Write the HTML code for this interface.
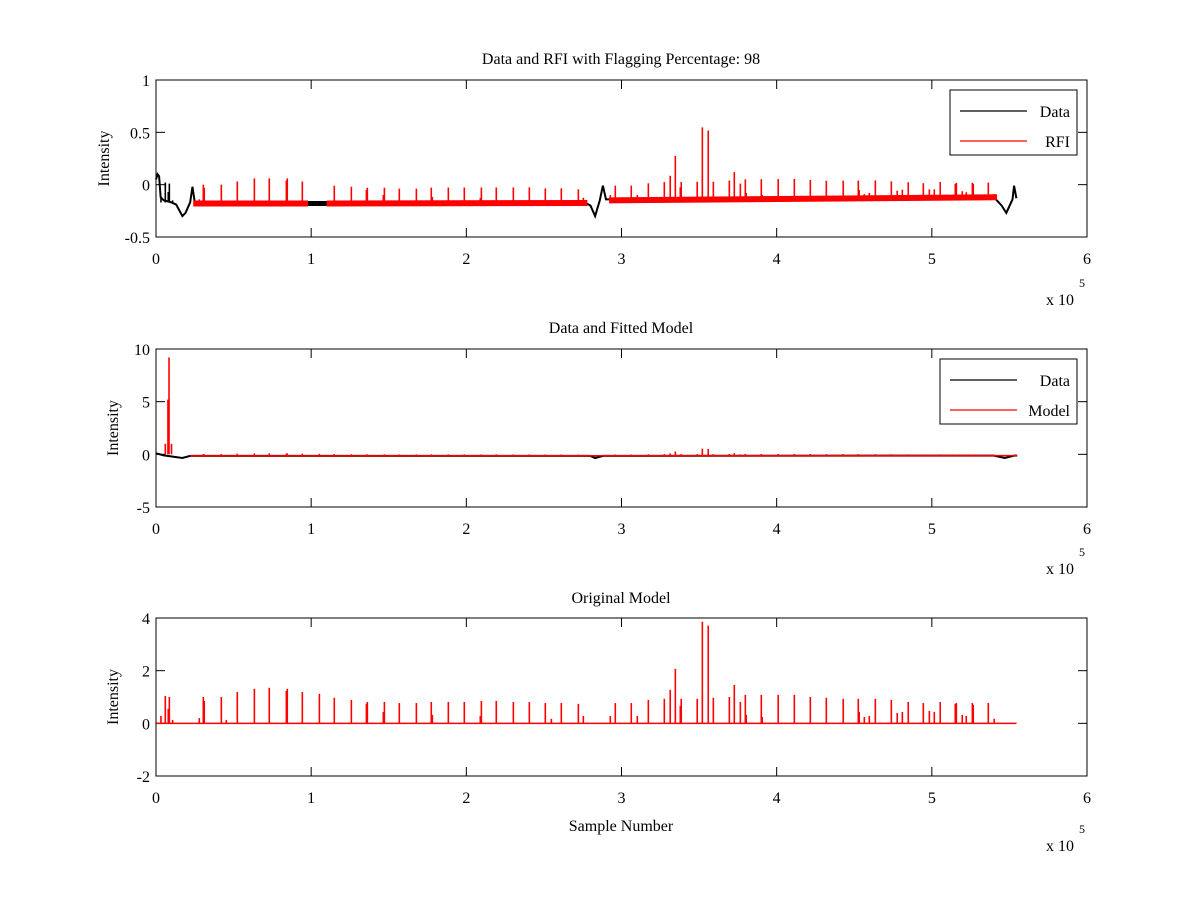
<!DOCTYPE html>
<html><head><meta charset="utf-8"><style>
html,body{margin:0;padding:0;background:#fff;}
svg{display:block;font-family:"Liberation Serif",serif;}
</style></head><body>
<svg id="chart" width="1200" height="900" viewBox="0 0 1200 900" xmlns="http://www.w3.org/2000/svg">
<rect x="0" y="0" width="1200" height="900" fill="#fff"/>
</svg>
<script>
// ---- data (x in units of 1e5 samples) ----
const spikePos = [0.032,0.060,0.079,0.086,0.107,0.279,0.305,0.311,0.421,0.453,0.524,0.634,0.730,0.840,0.846,0.943,1.053,1.149,1.259,1.356,1.362,1.465,1.472,1.568,1.678,1.774,1.781,1.884,1.987,2.090,2.097,2.193,2.303,2.406,2.509,2.548,2.612,2.722,2.754,2.928,2.960,
3.063,3.102,3.173,3.276,3.314,3.347,3.379,3.385,3.488,3.521,3.559,3.592,3.695,3.727,3.766,3.798,3.804,3.901,3.907,4.010,4.114,4.217,4.320,4.429,4.526,4.532,4.565,4.597,4.636,4.739,4.777,4.810,4.848,4.945,4.984,5.016,5.054,5.151,5.158,5.196,5.222,5.261,5.267,5.364,5.402];
const modelVals = [0.28,1.04,0.55,1.0,0.13,0.2,1.0,0.85,1.0,0.13,1.19,1.31,1.35,1.23,1.31,1.19,1.12,0.97,0.89,0.74,0.81,0.43,0.81,0.77,0.77,0.81,0.32,0.81,0.81,0.28,0.85,0.85,0.81,0.81,0.77,0.17,0.77,0.74,0.28,0.28,0.77,
0.77,0.28,0.89,0.93,1.27,2.07,0.66,0.93,0.93,3.86,3.71,0.97,1.0,1.46,0.81,1.08,0.32,1.08,0.24,1.08,1.08,1.0,0.97,0.93,0.93,0.43,0.24,0.28,0.93,0.89,0.39,0.43,0.81,0.77,0.47,0.43,0.81,0.74,0.77,0.32,0.28,0.77,0.70,0.77,0.17];
const rfiHeights = [0.05,0.19,0.10,0.18,0.02,0.04,0.18,0.15,0.18,0.02,0.21,0.24,0.24,0.22,0.24,0.21,0.20,0.17,0.16,0.13,0.15,0.08,0.15,0.14,0.14,0.15,0.06,0.15,0.15,0.05,0.15,0.15,0.15,0.15,0.14,0.03,0.14,0.13,0.05,0.05,0.14,
0.14,0.05,0.16,0.17,0.23,0.42,0.12,0.17,0.17,0.69,0.66,0.17,0.18,0.26,0.15,0.19,0.06,0.19,0.04,0.19,0.19,0.18,0.17,0.17,0.17,0.08,0.04,0.05,0.17,0.16,0.07,0.08,0.15,0.14,0.08,0.08,0.15,0.13,0.14,0.06,0.05,0.14,0.13,0.14,0.03];
const dataX = [0,0.01,0.02,0.03,0.05,0.10,0.13,0.17,0.19,0.22,0.235,0.25,1.0,1.1,2.75,2.8,2.83,2.86,2.88,2.9,5.4,5.45,5.48,5.52,5.53,5.545];
const dataY = [0.05,0.10,0.08,-0.12,-0.15,-0.17,-0.19,-0.30,-0.27,-0.17,-0.02,-0.17,-0.17,-0.18,-0.16,-0.20,-0.30,-0.15,-0.01,-0.14,-0.12,-0.20,-0.27,-0.14,-0.01,-0.13];
const rfiSegX = [[0.24,0.98],[1.1,2.78],[2.92,5.42]];
const rfiSegY = [[-0.18,-0.18],[-0.18,-0.175],[-0.15,-0.12]];
const fitBigPos = [0.060,0.077,0.084,0.100];
const fitBigVals = [1.0,5.2,9.2,1.0];
const fitDataX = [0,0.05,0.17,0.22,1.0,2.8,2.83,2.88,5.4,5.47,5.53,5.55];
const fitDataY = [0.1,-0.1,-0.35,-0.15,-0.15,-0.15,-0.35,-0.15,-0.12,-0.35,-0.12,-0.12];
const xTicks = [0,1,2,3,4,5,6];
const yTicks1 = [-0.5,0,0.5,1], yTicks2 = [-5,0,5,10], yTicks3 = [-2,0,2,4];

const svg = document.getElementById('chart');
const NS = 'http://www.w3.org/2000/svg';
function mk(tag, attrs, parent){const e=document.createElementNS(NS,tag);for(const k in attrs)e.setAttribute(k,attrs[k]);(parent||svg).appendChild(e);return e;}
const X0=156,X1=1087;
function xs(v){return X0+(v-0)/6*(X1-X0);}
function mkAxis(top,bot,ymin,ymax){return v=>bot-(v-ymin)/(ymax-ymin)*(bot-top);}

function panel(id,top,bot,ymin,ymax,yt,title,tY,expY){
  const g=mk('g',{});
  
  
  const ys=mkAxis(top,bot,ymin,ymax);
  const t=mk('text',{x:621,y:tY,'text-anchor':'middle','font-size':16,fill:'#000'},g);
  t.textContent=title;
  
  
  const yl=mk('text',{x:0,y:0,'text-anchor':'middle','font-size':16,transform:`translate(${id==='panel-rfi'?109:118},${(top+bot)/2}) rotate(-90)`},g);
  yl.textContent='Intensity';
  
  
  xTicks.forEach(v=>{
    const x=xs(v);
    mk('line',{x1:x,y1:bot,x2:x,y2:bot-9,stroke:'#000'},g);
    mk('line',{x1:x,y1:top,x2:x,y2:top+9,stroke:'#000'},g);
    const l=mk('text',{x:x,y:bot+27,'text-anchor':'middle','font-size':16},g);
    l.textContent=v;
    
    
  });
  yt.forEach(v=>{
    const y=ys(v);
    mk('line',{x1:X0,y1:y,x2:X0+9,y2:y,stroke:'#000'},g);
    mk('line',{x1:X1,y1:y,x2:X1-9,y2:y,stroke:'#000'},g);
    const l=mk('text',{x:150,y:y+6,'text-anchor':'end','font-size':16},g);
    l.textContent=v;
    
    
  });
  const e=mk('text',{x:1046,y:expY,'font-size':16},g);
  e.textContent='x 10';
  
  
  const e5=mk('text',{x:1079,y:expY-18,'font-size':12},g);
  e5.textContent='5';
  return {g,ys,top,bot};
}

function poly(g,xa,ya,ys,color,w,name){
  const p=mk('polyline',{points:xa.map((x,i)=>xs(x)+','+ys(ya[i])).join(' '),fill:'none',stroke:color,'stroke-width':w},g);
  
  
}
function spike(g,x,y0,y1,color,name){
  const l=mk('line',{x1:xs(x),x2:xs(x),y1:y0,y2:y1,stroke:color,'stroke-width':1.6},g);
  
  
}
function baseAt(x){for(let i=0;i<rfiSegX.length;i++){const [a,b]=rfiSegX[i];if(x>=a&&x<=b){const [ya,yb]=rfiSegY[i];return ya+(yb-ya)*(x-a)/(b-a);}}return null;}
function frame(g,top,bot){
  const r=mk('rect',{x:X0,y:top,width:X1-X0,height:bot-top,fill:'none',stroke:'#000'},g);
  
  
}
function legend(g,x,y,w,labels,colors){
  const lg=mk('g',{},g);
  
  
  mk('rect',{x:x,y:y,width:w,height:65,fill:'#fff',stroke:'#000'},lg);
  labels.forEach((lab,i)=>{
    const yy=y+21+i*30;
    const en=mk('g',{},lg);
    
    
    mk('line',{x1:x+10,x2:x+77,y1:yy,y2:yy,stroke:colors[i],'stroke-width':1.2},en);
    const t=mk('text',{x:x+w-7,y:yy+6,'text-anchor':'end','font-size':16},en);
    t.textContent=lab;
  });
}

// Panel 1
const p1=panel('panel-rfi',80,237,-0.5,1,yTicks1,'Data and RFI with Flagging Percentage: 98',64,305);
poly(p1.g,dataX,dataY,p1.ys,'#000',2,'data-line');
mk('line',{x1:xs(0.98),x2:xs(1.1),y1:p1.ys(-0.18),y2:p1.ys(-0.18),stroke:'#000','stroke-width':5},p1.g);
rfiSegX.forEach((s,i)=>{
  const l=mk('line',{x1:xs(s[0]),x2:xs(s[1]),y1:p1.ys(rfiSegY[i][0]),y2:p1.ys(rfiSegY[i][1]),stroke:'#f00','stroke-width':6},p1.g);
  
  
});
spikePos.forEach((x,i)=>{
  const b=baseAt(x);
  if(b===null){ if(x<0.22) spike(p1.g,x,p1.ys(-0.17),p1.ys(-0.17+rfiHeights[i]),'#000','data-spike'); return;}
  spike(p1.g,x,p1.ys(b),p1.ys(b+rfiHeights[i]),'#f00','rfi-spike');
});
frame(p1.g,80,237);
legend(p1.g,950,90,127,['Data','RFI'],['#000','#f00']);

// Panel 2
const p2=panel('panel-fit',349,507,-5,10,yTicks2,'Data and Fitted Model',333,574);
poly(p2.g,fitDataX,fitDataY,p2.ys,'#000',2,'data-line');
mk('line',{x1:xs(0.22),x2:xs(5.55),y1:p2.ys(-0.15),y2:p2.ys(-0.12),stroke:'#f00','stroke-width':1.5},p2.g);
spikePos.forEach((x,i)=>{ if(x>0.2) spike(p2.g,x,p2.ys(-0.15),p2.ys(-0.15+rfiHeights[i]*1.0),'#f00','model-spike'); });
fitBigPos.forEach((x,i)=>spike(p2.g,x,p2.ys(0),p2.ys(fitBigVals[i]),'#f00','model-spike'));
frame(p2.g,349,507);
legend(p2.g,940,359,137,['Data','Model'],['#000','#f00']);

// Panel 3
const p3=panel('panel-original',618,776,-2,4,yTicks3,'Original Model',603,851);
mk('line',{x1:xs(0),x2:xs(5.546),y1:p3.ys(0),y2:p3.ys(0),stroke:'#f00','stroke-width':1.5},p3.g);
spikePos.forEach((x,i)=>spike(p3.g,x,p3.ys(0),p3.ys(modelVals[i]),'#f00','model-spike'));
frame(p3.g,618,776);
const xl=mk('text',{x:621,y:831,'text-anchor':'middle','font-size':16});
xl.textContent='Sample Number';


</script>
</body></html>
